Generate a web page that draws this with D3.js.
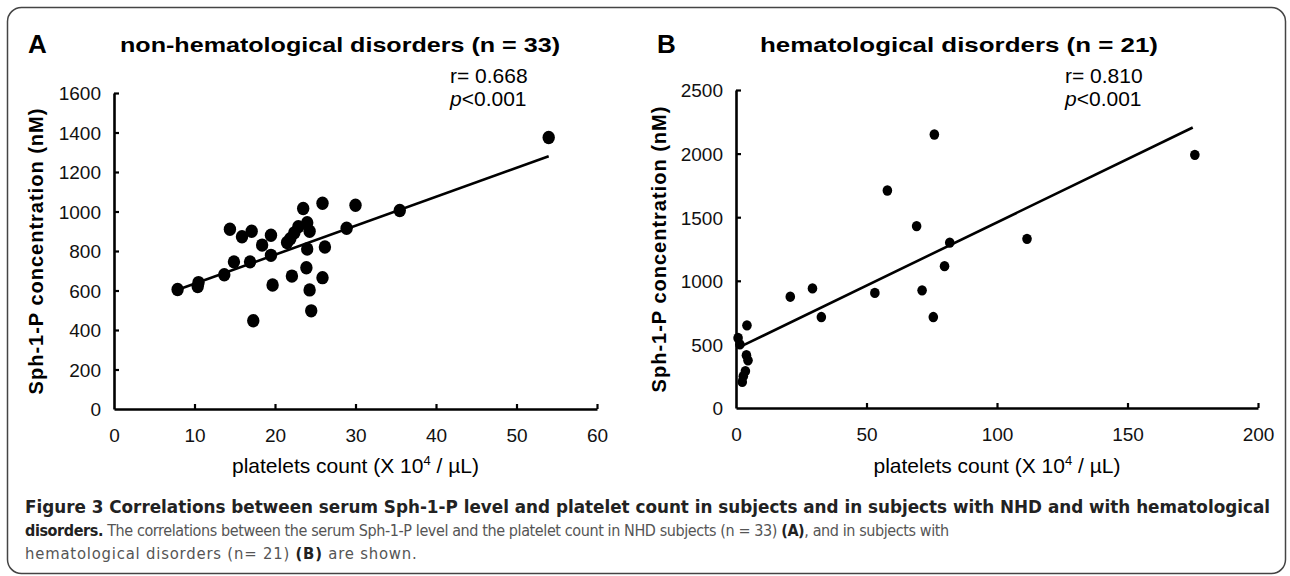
<!DOCTYPE html>
<html>
<head>
<meta charset="utf-8">
<script src="https://cdn.jsdelivr.net/npm/d3@7"></script>
<style>
  body { margin: 0; background: #fff; }
  svg { display: block; }
  .tick text { font-family: "Liberation Sans", Arial, sans-serif; font-size: 19px; fill: #111; }
</style>
</head>
<body>
<svg id="fig" width="1290" height="576"></svg>
<script>
const width = 1290;
const height = 576;

// Panel A: non-hematological disorders (n = 33)
const nhdPlatelets = [7.9, 10.4, 10.5, 13.7, 14.9, 14.4, 15.9, 17.1, 16.9, 17.3, 18.4,
  19.5, 19.5, 19.7, 21.5, 22.1, 21.9, 22.4, 22.9, 23.5, 24.0, 24.3, 24.0, 23.9,
  24.3, 24.5, 25.9, 26.2, 25.9, 28.9, 30.0, 35.5, 54.0];
const nhdSph = [605, 620, 640, 680, 745, 910, 872, 900, 745, 447, 830,
  880, 778, 628, 843, 673, 862, 892, 923, 1015, 943, 900, 810, 715,
  603, 497, 1042, 820, 665, 915, 1032, 1005, 1375];
const trendAx = [8, 54];
const trendAy = [605, 1280];

// Panel B: hematological disorders (n = 21)
const hdPlatelets = [0.8, 1.5, 4.0, 4.6, 3.6, 2.8, 2.4, 4.2, 20.8, 29.3, 32.7,
  53.2, 58.0, 69.2, 71.3, 75.6, 76.0, 79.9, 81.9, 111.5, 175.8];
const hdSph = [550, 500, 415, 375, 290, 250, 205, 650, 875, 940, 715,
  905, 1710, 1430, 925, 715, 2150, 1115, 1300, 1330, 1990];
const trendBx = [2.5, 175];
const trendBy = [490, 2205];

const xTicksA = [0, 10, 20, 30, 40, 50, 60];
const yTicksA = [0, 200, 400, 600, 800, 1000, 1200, 1400, 1600];
const xTicksB = [0, 50, 100, 150, 200];
const yTicksB = [0, 500, 1000, 1500, 2000, 2500];

const svg = d3.select("#fig");
const sans = "Liberation Sans, Arial, sans-serif";

// outer rounded frame
svg.append("rect")
  .attr("x", 7.5).attr("y", 7.5)
  .attr("width", 1278).attr("height", 566)
  .attr("rx", 14)
  .attr("fill", "none")
  .attr("stroke", "#444")
  .attr("stroke-width", 1.5);

function drawPanel(opt) {
  const x = d3.scaleLinear().domain(opt.xDomain).range(opt.xRange);
  const y = d3.scaleLinear().domain(opt.yDomain).range(opt.yRange);
  const g = svg.append("g");

  // letter + title
  g.append("text")
    .attr("x", opt.letterX).attr("y", 53)
    .attr("font-family", sans)
    .attr("font-weight", "bold").attr("font-size", 26)
    .text(opt.letter);
  g.append("text")
    .attr("x", opt.titleX).attr("y", 52)
    .attr("font-family", sans)
    .attr("font-weight", "bold").attr("font-size", 21)
    .attr("textLength", opt.titleLen).attr("lengthAdjust", "spacingAndGlyphs")
    .text(opt.title);

  // axes, ticks point inward
  const xAxis = g.append("g")
    .attr("transform", `translate(0,${opt.yRange[0]})`)
    .call(d3.axisBottom(x).tickValues(opt.xTicks).tickFormat(d3.format("d"))
      .tickSizeInner(-5).tickSizeOuter(0).tickPadding(20));
  const yAxis = g.append("g")
    .attr("transform", `translate(${opt.xRange[0]},0)`)
    .call(d3.axisLeft(y).tickValues(opt.yTicks).tickFormat(d3.format("d"))
      .tickSizeInner(-5).tickSizeOuter(0).tickPadding(13));
  [xAxis, yAxis].forEach(a => {
    a.select(".domain").attr("stroke", "#000").attr("stroke-width", 2.6);
    a.selectAll(".tick line").attr("stroke", "#000").attr("stroke-width", 2.2);
  });
  xAxis.selectAll(".tick").filter(d => d === 0).select("line").remove();
  yAxis.selectAll(".tick").filter(d => d === 0).select("line").remove();
  xAxis.selectAll(".tick text").attr("dy", "0.71em");
  yAxis.selectAll(".tick text").attr("dy", "0.36em");

  // axis titles
  const xt = g.append("text")
    .attr("x", (opt.xRange[0] + opt.xRange[1]) / 2).attr("y", 473)
    .attr("text-anchor", "middle")
    .attr("font-family", sans)
    .attr("font-size", 21);
  xt.append("tspan").text("platelets count (X 10");
  xt.append("tspan").attr("font-size", 13).attr("dy", -8).text("4");
  xt.append("tspan").attr("dy", 8).text(" / \u00b5L)");

  g.append("text")
    .attr("transform", `translate(${opt.yTitleX},${(opt.yRange[0] + opt.yRange[1]) / 2}) rotate(-90)`)
    .attr("text-anchor", "middle")
    .attr("font-family", sans)
    .attr("font-weight", "bold").attr("font-size", 20)
    .attr("letter-spacing", 1)
    .text("Sph-1-P concentration (nM)");

  // regression line
  g.append("path")
    .datum(d3.zip(opt.trendX, opt.trendY))
    .attr("fill", "none").attr("stroke", "#000").attr("stroke-width", 2.6)
    .attr("d", d3.line().x(d => x(d[0])).y(d => y(d[1])));

  // points
  g.selectAll("ellipse.pt")
    .data(d3.zip(opt.px, opt.py))
    .join("ellipse")
    .attr("class", "pt")
    .attr("cx", d => x(d[0])).attr("cy", d => y(d[1]))
    .attr("rx", opt.r).attr("ry", opt.r * 1.08)
    .attr("fill", "#000");

  // stats
  g.append("text")
    .attr("x", opt.statX).attr("y", 83)
    .attr("font-family", sans)
    .attr("font-size", 21)
    .text(opt.rText);
  const p = g.append("text")
    .attr("x", opt.statX).attr("y", 106)
    .attr("font-family", sans)
    .attr("font-size", 21);
  p.append("tspan").attr("font-style", "italic").text("p");
  p.append("tspan").text("<0.001");
}

drawPanel({
  letter: "A", letterX: 28,
  title: "non-hematological disorders (n = 33)", titleX: 120, titleLen: 440,
  xDomain: [0, 60], xRange: [114, 597],
  yDomain: [0, 1600], yRange: [409, 93],
  xTicks: xTicksA, yTicks: yTicksA,
  px: nhdPlatelets, py: nhdSph, r: 6.2,
  trendX: trendAx, trendY: trendAy,
  yTitleX: 43, statX: 450, rText: "r= 0.668"
});

drawPanel({
  letter: "B", letterX: 657,
  title: "hematological disorders (n = 21)", titleX: 760, titleLen: 398,
  xDomain: [0, 200], xRange: [736, 1258],
  yDomain: [0, 2500], yRange: [408, 90],
  xTicks: xTicksB, yTicks: yTicksB,
  px: hdPlatelets, py: hdSph, r: 4.8,
  trendX: trendBx, trendY: trendBy,
  yTitleX: 666, statX: 1065, rText: "r= 0.810"
});

// caption
const capFont = "'DejaVu Sans Condensed', 'Liberation Sans Narrow', sans-serif";
svg.append("text")
  .attr("x", 25).attr("y", 513)
  .attr("font-family", capFont).attr("font-size", 17).attr("font-weight", "bold")
  .attr("fill", "#222")
  .attr("textLength", 1245).attr("lengthAdjust", "spacingAndGlyphs")
  .text("Figure 3 Correlations between serum Sph-1-P level and platelet count in subjects and in subjects with NHD and with hematological");

const c2 = svg.append("text")
  .attr("x", 25).attr("y", 536)
  .attr("font-family", capFont).attr("font-size", 16)
  .attr("font-stretch", "condensed")
  .attr("letter-spacing", -0.4)
  .attr("fill", "#555");
c2.append("tspan").attr("font-weight", "bold").attr("fill", "#222").text("disorders.");
c2.append("tspan").text(" The correlations between the serum Sph-1-P level and the platelet count in NHD subjects (n = 33) ");
c2.append("tspan").attr("font-weight", "bold").attr("fill", "#222").text("(A)");
c2.append("tspan").text(", and in subjects with");

const c3 = svg.append("text")
  .attr("x", 25).attr("y", 559)
  .attr("font-family", capFont).attr("font-size", 16.5)
  .attr("font-stretch", "condensed")
  .attr("letter-spacing", 0.8)
  .attr("fill", "#555");
c3.append("tspan").text("hematological disorders (n= 21) ");
c3.append("tspan").attr("font-weight", "bold").attr("fill", "#222").text("(B)");
c3.append("tspan").text(" are shown.");
</script>
</body>
</html>
